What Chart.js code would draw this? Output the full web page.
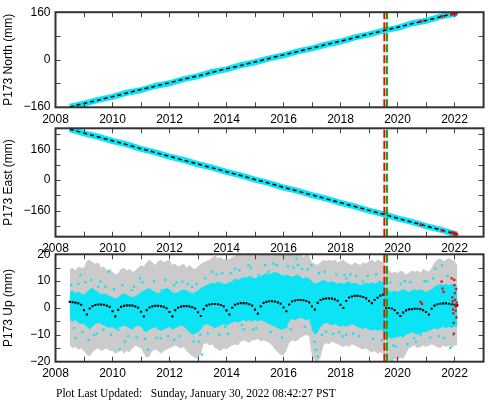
<!DOCTYPE html>
<html>
<head>
<meta charset="utf-8">
<script src="https://cdn.jsdelivr.net/npm/chart.js@4"></script>
<style>
  html, body { margin: 0; padding: 0; background: #fff; }
  #wrap { position: relative; width: 488px; height: 401px; overflow: hidden; }
  #wrap canvas { position: absolute; left: 0; top: 0; }
  #updated {
    position: absolute; left: 56px; top: 387px;
    font: 11.5px "Liberation Serif", "DejaVu Serif", serif;
    line-height: 12px; white-space: pre; color: #000;
  }
</style>
</head>
<body>
<div id="wrap">
  <canvas id="north" width="488" height="401"></canvas>
  <canvas id="east" width="488" height="401"></canvas>
  <canvas id="up" width="488" height="401"></canvas>
  <div id="updated">Plot Last Updated:   Sunday, January 30, 2022 08:42:27 PST</div>
</div>
<script>
// time axis
const xMin = 2008, xMax = 2023.02;
const yearTicks = [2008, 2009, 2010, 2011, 2012, 2013, 2014, 2015, 2016, 2017, 2018, 2019, 2020, 2021, 2022, 2023];
const eventRed = 2019.54, eventGreen = 2019.63;

const northTicks = [-160, -80, 0, 80, 160];
const eastTicks = [-240, -160, -80, 0, 80, 160, 240];
const upTicks = [-20, -15, -10, -5, 0, 5, 10, 15, 20];

// north / east, half-year samples
const neYears = [2008.5, 2009, 2009.5, 2010, 2010.5, 2011, 2011.5, 2012, 2012.5, 2013, 2013.5, 2014, 2014.5,
  2015, 2015.5, 2016, 2016.5, 2017, 2017.5, 2018, 2018.5, 2019, 2019.5, 2020, 2020.5, 2021, 2021.5, 2022, 2022.08];
const northObs = [-159, -149, -136, -126, -112, -103, -89, -80, -66, -56, -42, -33, -19, -9, 4, 14, 28, 38,
  51, 61, 75, 85, 98, 107, 122, 131, 145, 154, 158];
const northModel = [-160, -148, -137, -125, -113, -101, -90, -78, -66, -55, -43, -31, -20, -8, 4, 16, 27, 39,
  51, 62, 74, 86, 97, 109, 121, 132, 144, 156, 158];
const eastObs = [265, 243, 225, 203, 185, 162, 144, 122, 104, 82, 64, 42, 24, 2, -16, -39, -57, -79,
  -97, -119, -137, -159, -177, -200, -218, -240, -258, -280, -283];
const eastModel = [264, 244, 224, 204, 184, 163, 143, 123, 103, 83, 63, 43, 23, 3, -17, -38, -58, -78,
  -98, -118, -138, -158, -178, -199, -219, -239, -259, -279, -282];

const redNEYears = [2020.82, 2021.56, 2021.9, 2021.95, 2022.0, 2022.02, 2022.04, 2022.08];
const redNorth = [128, 146, 153, 155, 156, 154, 157, 159];
const redEast = [-232, -262, -274, -276, -278, -276, -280, -283];

// up, 0.1-year samples from 2008.5
const upStart = 2008.5, upStep = 0.1;
const upModel = [
  2.3, 2.2, 2.0, 1.7, 1.2,
  -0.8, -2.4, -0.2, 0.7, 1.1, 1.3, 1.3, 1.2, 0.9, 0.4,
  -1.2, -3.1, -0.7, 0.4, 0.8, 1.0, 1.0, 0.9, 0.6, 0.1,
  -1.4, -3.1, -0.8, 0.2, 0.6, 0.8, 0.8, 0.7, 0.4, -0.1,
  -1.5, -3.1, -0.8, 0.1, 0.5, 0.7, 0.7, 0.6, 0.3, -0.2,
  -1.6, -3.0, -0.4, 0.9, 1.3, 1.5, 1.5, 1.4, 1.1, 0.6,
  -0.9, -2.4, 0.1, 1.2, 1.6, 1.8, 1.8, 1.7, 1.4, 0.9,
  -0.6, -2.1, 0.6, 1.9, 2.3, 2.5, 2.5, 2.4, 2.1, 1.6,
  0.2, -1.2, 1.3, 2.4, 2.8, 3.0, 3.0, 2.9, 2.6, 2.1,
  0.6, -0.6, 1.9, 3.0, 3.4, 3.6, 3.6, 3.5, 3.2, 2.7,
  1.2, 0.0, 2.6, 3.9, 4.3, 4.5, 4.5, 4.4, 4.1, 3.6,
  2.6, 1.8, 3.0, 3.8, 4.6, 5.0, -0.1, 0.0, -0.2, -0.8,
  -1.9, -3.0, -1.7, -0.9, -0.5, -0.4, -0.3, -0.3, -0.4, -0.8,
  -1.5, -2.4, -0.3, 0.9, 1.4, 1.6, 1.7, 1.7, 1.6, 1.4,
  1.2, 1.0];
// error bar envelope (gray)
const grayTop = [
  14.5, 15, 14, 15.5, 15,
  15, 17.5, 18, 17, 16.5, 17, 15, 15.5, 14, 14.5,
  13.5, 12.5, 13, 14.5, 15, 14, 14.5, 13.5, 14, 15,
  16, 15.5, 17, 18, 17, 16, 17.5, 18, 17, 17.5,
  18, 16, 16.5, 15.5, 16, 16.5, 15, 16, 15, 14.5,
  15.5, 16.5, 17, 17.5, 18, 19, 19.5, 18.5, 19, 18,
  18.5, 18, 19, 19.5, 20, 20, 19.5, 20, 20, 20,
  20, 19.5, 20, 20, 20, 20, 19.5, 20, 20, 20,
  20, 20, 20, 20, 19.5, 20, 20, 19, 20, 19.5,
  17, 16.5, 16, 17, 18, 17.5, 18, 17.5, 18, 17,
  17.5, 18, 17, 16.5, 16, 17, 16.5, 16, 17, 16.5,
  17.5, 18, 17, 18, 17.5, 17, 15, 14, 13, 13.5,
  13, 14, 13.5, 12.5, 13, 14, 13.5, 14, 13, 14.5,
  14, 13.5, 15, 17, 18, 18.5, 17.5, 18, 18.5, 18,
  17.5, 16];
const grayBottom = [
  -14, -15, -14.5, -15.5, -15,
  -16, -17.5, -18, -16.5, -15.5, -15, -16, -15.5, -15, -16,
  -16, -17, -16.5, -15.5, -17, -16, -16.5, -15, -14, -14.5,
  -15, -17, -18.5, -18, -16, -15.5, -16, -17, -16, -15.5,
  -15, -14.5, -14, -14.5, -15, -14.5, -16, -17, -18, -18.5,
  -19, -17, -13.5, -13, -14, -13.5, -15, -15.5, -16, -15,
  -15.5, -14.5, -14, -13.5, -14, -12.5, -12, -12.5, -13, -12,
  -12, -11.5, -12.5, -12, -12.5, -13, -14, -15.5, -16.5, -17.5,
  -17.5, -16, -13, -12, -12.5, -12, -11, -10.5, -10, -10.5,
  -18, -19.5, -20, -18.5, -14, -13, -13.5, -12.5, -13, -13.5,
  -14, -14.5, -14, -14.5, -13.5, -14, -14.5, -15, -15.5, -15,
  -16, -16.5, -16, -17, -16.5, -17, -19, -19.5, -20, -19,
  -19.5, -18.5, -19, -17, -15, -14.5, -14, -15, -14.5, -14,
  -14.5, -14, -13.5, -14, -14.5, -15, -14, -14.5, -14, -15,
  -14, -14];
// dense part of the daily positions (cyan)
const cyanTop = [
  6, 6.5, 5.5, 6, 5.5,
  5, 6, 7, 7.5, 6.5, 6, 5, 5.5, 5, 4.5,
  4, 3.5, 4, 5, 5.5, 5, 4.5, 4, 4.5, 5,
  6, 6.5, 7, 7.5, 6.5, 6, 5.5, 6, 7, 7.5,
  7, 6, 5.5, 6, 6.5, 7, 6.5, 6, 5.5, 6,
  6.5, 7.5, 8, 8.5, 9, 9.5, 9, 10, 9.5, 9,
  9, 9.5, 10, 11, 10.5, 11, 11.5, 11, 12, 11.5,
  11, 11.5, 12, 12.5, 13, 12.5, 13, 13.5, 13, 12.5,
  12, 12.5, 12, 11.5, 12, 12.5, 11.5, 11, 11.5, 11,
  10, 9, 9.5, 10, 10.5, 10, 9.5, 10, 9.5, 9,
  9.5, 9, 9.5, 10, 9, 9.5, 9, 8.5, 9, 9.5,
  9, 9.5, 9, 9.5, 10, 9.5, 7, 6.5, 6, 6.5,
  6, 6.5, 7, 6.5, 6, 6.5, 7, 6.5, 7, 6.5,
  6, 6.5, 7, 8, 8.5, 9, 8.5, 9, 8.5, 9,
  8.5, 8];
const cyanBottom = [
  -4, -5, -4.5, -5.5, -6,
  -6, -7, -8, -7, -6, -5.5, -6, -6.5, -7, -7.5,
  -7, -8, -7.5, -7, -6.5, -7, -7.5, -8, -7, -6.5,
  -7, -8.5, -9, -8, -7.5, -7, -8, -8.5, -8, -7.5,
  -7, -8, -7.5, -7, -6.5, -7, -8, -9, -10, -9.5,
  -9, -8, -6.5, -6, -6.5, -7, -7.5, -7, -6.5, -6,
  -6.5, -6, -5.5, -5, -5.5, -5, -4.5, -5, -4.5, -5,
  -4.5, -5, -4.5, -5, -5.5, -6, -6.5, -7, -7.5, -8,
  -8, -7, -5, -4, -4.5, -4, -3.5, -4, -4.5, -4,
  -8, -10, -9, -7, -6, -5.5, -6, -6.5, -6, -6.5,
  -7, -6.5, -7, -6.5, -6, -6.5, -7, -7.5, -7, -7.5,
  -8, -8.5, -8, -8.5, -8, -9, -10, -11, -11.5, -11,
  -11, -10.5, -11, -10, -9.5, -9, -9.5, -10, -9.5, -9,
  -9, -8.5, -8, -7.5, -8, -7.5, -7, -7.5, -7, -7.5,
  -7, -7];
// scattered daily positions outside the dense part
const cyanOutYears = [2008.58, 2008.58, 2008.7, 2008.87, 2009.16, 2009.5, 2009.57, 2009.68, 2009.86, 2010.2,
  2010.26, 2010.44, 2010.67, 2010.96, 2011.25, 2011.69, 2011.72, 2012.16, 2012.16, 2012.45, 2012.79, 2013.03,
  2013.08, 2013.14, 2013.49, 2013.96, 2014.31, 2014.54, 2014.71, 2014.77, 2014.94, 2015.12, 2015.23, 2015.47,
  2015.76, 2015.82, 2016.05, 2016.1, 2016.45, 2016.5, 2016.98, 2017.03, 2017.09, 2017.15, 2017.2, 2017.5,
  2017.6, 2018.08, 2018.14, 2018.2, 2018.2, 2018.78, 2018.78, 2019.07, 2019.36, 2019.65, 2019.94, 2020.0,
  2020.11, 2020.58, 2020.81, 2021.04, 2021.33, 2021.56, 2021.62, 2021.85,
  2008.55, 2008.65, 2008.8, 2008.95, 2009.05, 2009.25, 2009.35, 2009.45, 2009.75, 2009.95,
  2010.05, 2010.35, 2010.55, 2010.75, 2010.85, 2011.05, 2011.15, 2011.45, 2011.55, 2011.85,
  2011.95, 2012.25, 2012.35, 2012.65, 2012.85, 2012.95, 2013.25, 2013.35, 2013.65, 2013.75,
  2013.85, 2014.05, 2014.15, 2014.45, 2014.6, 2014.85, 2015.05, 2015.35, 2015.55, 2015.65,
  2015.95, 2016.15, 2016.25, 2016.35, 2016.65, 2016.75, 2016.85, 2017.25, 2017.35, 2017.45,
  2017.75, 2017.85, 2017.95, 2018.35, 2018.45, 2018.55, 2018.65, 2018.95, 2019.15, 2019.25,
  2019.45, 2019.75, 2019.85, 2020.25, 2020.35, 2020.45, 2020.65, 2020.95, 2021.15, 2021.25,
  2021.45, 2021.75, 2021.95];
const cyanOutValues = [5.4, -4.4, -11.2, 12.2, -11.9, 7.9, 9.8, -8.1, 13.5, -8.1,
  -15.5, -12.5, 6.7, 11, -15.5, -11.2, 6.7, 8.5, -11.9, 9.8, 7.9, -12.5,
  -10, -17.4, 13.5, -6.9, 14.7, -6.3, 11, 16, -8.1, 12.2, 9.8, 13.5,
  16, 12.2, -6.3, -6.9, 18.4, 16, 16, -8.1, -12.5, -15.5, -18, -8.8,
  9.1, -10.6, 12.2, 11, -10, 9.8, -7.5, 9.1, 9.8, -13, -14.3, -8.8,
  9.1, -11.2, -10, 9.8, 14.7, 16, -11.2, -14.9,
  8.5, -7.5, 9, -9, 9.5, 10.5, -10, -9.5, 8, -10,
  7, 8.5, -10.5, 8, -11, 9.5, -11.5, 10, -11, 10.5,
  -10.5, 9.5, -10.5, 9, -12.5, 9, 11, -9.5, 12.5, -10,
  13, -9.5, 13, 14, -8, 15, -7.5, 16, -9, 16.5,
  -11, 15.5, -8, 15, 14.5, -7, 14.5, 13, -10, 13.5,
  -9.5, 12.5, -9, 12.5, -9.5, 12, -10.5, 12, -11.5, 12.5,
  -12, 9.5, -14, 10, -13.5, 9.5, -12.5, 10, -11, 11,
  -10.5, 12, -10];
const redUpYears = [2020.81, 2020.86, 2021.55, 2021.58, 2021.62, 2021.9, 2021.92, 2021.94, 2021.95, 2021.96,
  2021.97, 2021.98, 2021.99, 2022.0, 2022.01, 2022.02, 2022.03, 2022.04, 2022.05, 2022.06, 2022.07, 2022.08];
const redUpValues = [2.3, 1.5, 9.8, 7.2, 6, 11, 4, 2.5, -0.5, -2,
  -5.5, -9.5, 10.5, 8.5, 5.5, 3, 1, -1, 0.5, 7, -3.5, 2];

const upYears = upModel.map((_, i) => Math.round((upStart + i * upStep) * 100) / 100);

const cyan = '#0ce4f6';
const tickFont = { family: '"Liberation Sans", Arial, sans-serif', size: 12 };

function pts(xs, ys) {
  return xs.map((x, i) => ({ x: x, y: ys[i] }));
}

function yLabel(v) {
  return v < 0 ? '\u2212' + Math.abs(v) : String(v);
}

function eventLines(yMin, yMax) {
  return [
    { data: [{ x: eventRed, y: yMin }, { x: eventRed, y: yMax }], borderColor: '#ff0000', borderWidth: 2, borderDash: [8, 3], pointRadius: 0 },
    { data: [{ x: eventGreen, y: yMin }, { x: eventGreen, y: yMax }], borderColor: '#00b000', borderWidth: 2, borderDash: [8, 3], pointRadius: 0 }
  ];
}

// frame with inward ticks on all four sides
const framePlugin = {
  id: 'frame',
  afterDatasetsDraw(chart) {
    const { ctx, chartArea: a } = chart;
    const x = chart.scales.x, y = chart.scales.y;
    ctx.save();
    ctx.strokeStyle = '#444';
    ctx.lineWidth = 1;
    ctx.beginPath();
    x.ticks.forEach(t => {
      const p = Math.round(x.getPixelForValue(t.value)) + 0.5;
      if (p < a.left + 2 || p > a.right - 2) return;
      ctx.moveTo(p, a.bottom); ctx.lineTo(p, a.bottom - 5);
      ctx.moveTo(p, a.top); ctx.lineTo(p, a.top + 5);
    });
    y.ticks.forEach(t => {
      const p = Math.round(y.getPixelForValue(t.value)) + 0.5;
      if (p < a.top + 2 || p > a.bottom - 2) return;
      ctx.moveTo(a.left, p); ctx.lineTo(a.left + 5, p);
      ctx.moveTo(a.right, p); ctx.lineTo(a.right - 5, p);
    });
    ctx.stroke();
    ctx.strokeStyle = '#333';
    ctx.lineWidth = 2;
    ctx.strokeRect(a.left, a.top, a.right - a.left, a.bottom - a.top);
    ctx.restore();
  }
};

function makePanel(id, padTop, padBottom, yMin, yMax, yTicks, labelStep, title, datasets) {
  return new Chart(document.getElementById(id), {
    type: 'line',
    data: { datasets: eventLines(yMin, yMax).concat(datasets) },
    options: {
      responsive: false,
      animation: false,
      events: [],
      layout: { padding: { top: padTop, bottom: padBottom, left: 0, right: 1.2 } },
      plugins: { legend: { display: false }, tooltip: { enabled: false } },
      scales: {
        x: {
          type: 'linear', min: xMin, max: xMax,
          grid: { display: false, drawTicks: false },
          border: { display: false },
          afterBuildTicks: s => { s.ticks = yearTicks.map(v => ({ value: v })); },
          ticks: {
            autoSkip: false, maxRotation: 0, minRotation: 0,
            padding: 5, color: '#000', font: tickFont,
            callback: v => (v % 2 === 0 && v < 2023 ? String(v) : '')
          },
          afterFit: s => { s.height = 16; }
        },
        y: {
          type: 'linear', min: yMin, max: yMax,
          grid: { display: false, drawTicks: false },
          border: { display: false },
          afterBuildTicks: s => { s.ticks = yTicks.map(v => ({ value: v })); },
          ticks: {
            autoSkip: false, padding: 5, color: '#000', font: tickFont,
            callback: v => (v % labelStep === 0 ? yLabel(v) : '')
          },
          title: { display: true, text: title, color: '#000', font: tickFont, padding: { top: 1, bottom: 0 } },
          afterFit: s => { s.width = 55.5; }
        }
      }
    },
    plugins: [framePlugin]
  });
}

function trendSets(obs, model, red) {
  return [
    { data: pts(redNEYears, red), showLine: false, pointStyle: 'rect', pointRadius: 2, backgroundColor: '#ff0000', borderWidth: 0 },
    { data: pts(neYears, model), borderColor: '#000', borderWidth: 1.5, borderDash: [4, 3], pointRadius: 0 },
    { data: pts(neYears, obs), borderColor: cyan, borderWidth: 6, pointRadius: 0 }
  ];
}

makePanel('north', 5, 277.7, -161, 160, northTicks, 160, 'P173 North (mm)', trendSets(northObs, northModel, redNorth));
makePanel('east', 128.3, 148.3, -295, 269, eastTicks, 160, 'P173 East (mm)', trendSets(eastObs, eastModel, redEast));

makePanel('up', 254.3, 23.3, -20, 20, upTicks, 10, 'P173 Up (mm)', [
  { data: pts(redUpYears, redUpValues), showLine: false, pointStyle: 'rect', pointRadius: 1.6, backgroundColor: '#ff0000', borderWidth: 0 },
  { data: pts(upYears, upModel), showLine: false, pointStyle: 'rect', pointRadius: 1.5, backgroundColor: '#000', borderWidth: 0 },
  { data: pts(cyanOutYears, cyanOutValues), showLine: false, pointStyle: 'rect', pointRadius: 1.6, backgroundColor: cyan, borderWidth: 0 },
  { data: pts(upYears, cyanTop), fill: '+1', backgroundColor: cyan, borderWidth: 0, pointRadius: 0 },
  { data: pts(upYears, cyanBottom), borderWidth: 0, pointRadius: 0 },
  { data: pts(upYears, grayTop), fill: '+1', backgroundColor: '#cbcbcb', borderWidth: 0, pointRadius: 0 },
  { data: pts(upYears, grayBottom), borderWidth: 0, pointRadius: 0 }
]);
</script>
</body>
</html>
